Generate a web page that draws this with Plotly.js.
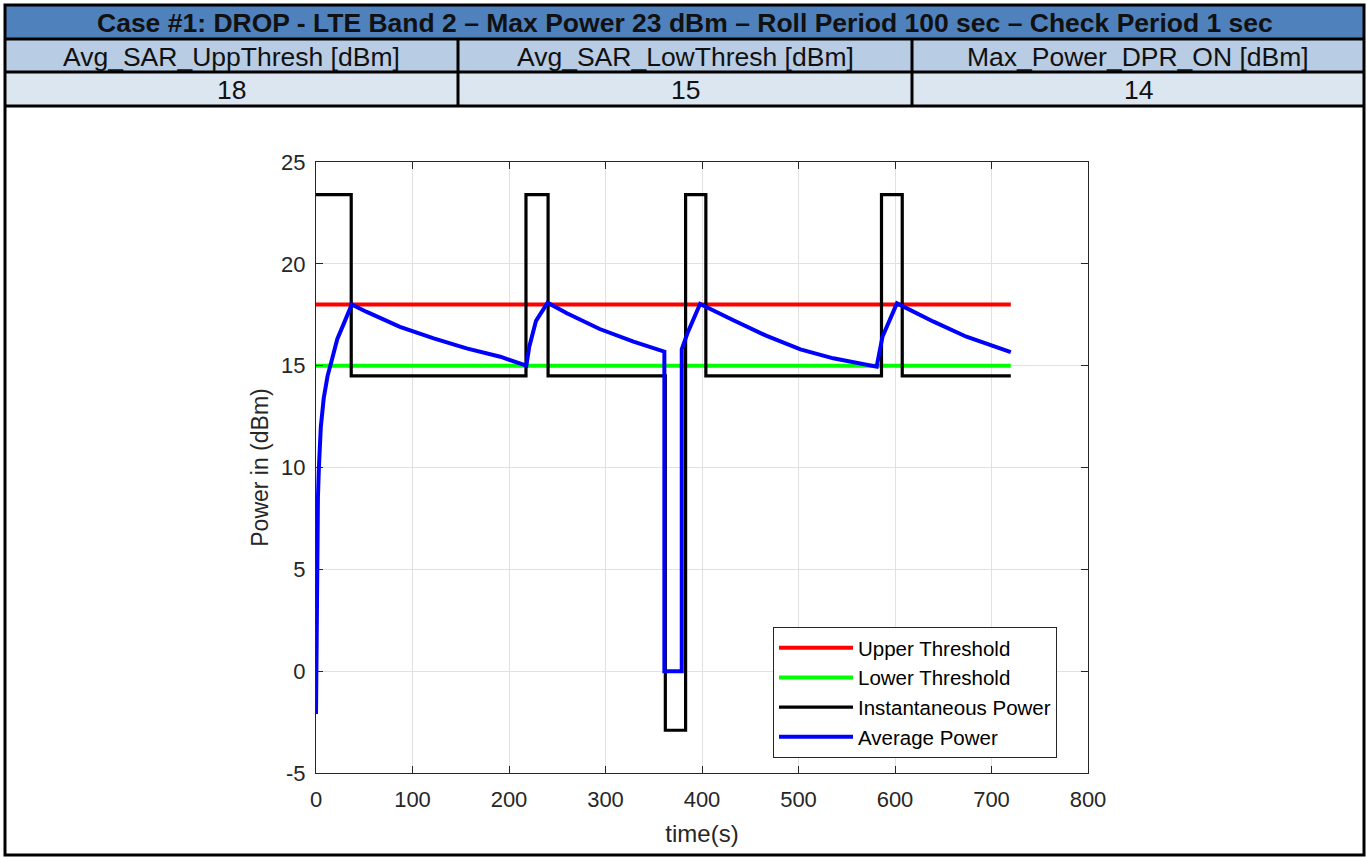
<!DOCTYPE html>
<html>
<head>
<meta charset="utf-8">
<script src="https://cdn.plot.ly/plotly-3.0.1.min.js"></script>
<style>html,body{margin:0;padding:0;background:#fff;}#chart{width:1367px;height:857px;}</style>
</head>
<body>
<div id="chart"></div>
<script>
// ---- data ----
var tableTitle = "Case #1: DROP - LTE Band 2 \u2013 Max Power 23 dBm \u2013 Roll Period 100 sec \u2013 Check Period 1 sec";
var tableHeaders = ["Avg_SAR_UppThresh [dBm]", "Avg_SAR_LowThresh [dBm]", "Max_Power_DPR_ON [dBm]"];
var tableValues = ["18", "15", "14"];

var yTickVals = [-5, 0, 5, 10, 15, 20, 25];
var yTickText = ["-5", "0", "5", "10", "15", "20", "25"];

var thresholdTime = [0, 720];
var upperThreshold = [18, 18];
var lowerThreshold = [15, 15];

var instTime  = [0, 36.5, 36.5, 217.6, 217.6, 240.5, 240.5, 362, 362, 383, 383, 404, 404, 586, 586, 607.5, 607.5, 720];
var instPower = [23.4, 23.4, 14.5, 14.5, 23.4, 23.4, 14.5, 14.5, -2.9, -2.9, 23.4, 23.4, 14.5, 14.5, 23.4, 23.4, 14.5, 14.5];

var avgTime  = [0, 0.5, 1, 2, 3, 5, 8, 12, 16, 22, 30, 37, 52, 87, 122, 156, 191, 218, 221, 228, 240, 260, 294, 329, 361, 361, 379, 379, 385, 398, 432, 467, 502, 536, 581, 587, 602, 640, 674, 720];
var avgPower = [-2.1, 2, 5.5, 8.5, 10, 12, 13.4, 14.5, 15.2, 16.3, 17.2, 18.0, 17.65, 16.91, 16.34, 15.85, 15.44, 15.0, 15.93, 17.2, 18.09, 17.57, 16.8, 16.18, 15.69, 0, 0, 15.8, 16.6, 18.03, 17.24, 16.46, 15.8, 15.36, 14.95, 16.42, 18.06, 17.16, 16.42, 15.66];

var seriesNames = ["Upper Threshold", "Lower Threshold", "Instantaneous Power", "Average Power"];

// ---- layout helpers (pixel -> paper) ----
var W = 1367, H = 857;
var L = 316, R = 1088, T = 162, B = 773;
function px(x) { return (x - L) / (R - L); }
function py(y) { return (B - y) / (B - T); }

var chartFont = "Liberation Sans, Arial, sans-serif";
var tableFont = "Liberation Sans, Arial, sans-serif";
var axisColor = "#262626";

var traces = [
  {x: thresholdTime, y: upperThreshold, name: seriesNames[0], mode: "lines", line: {color: "#ff0000", width: 4}, legendgroup: "a"},
  {x: thresholdTime, y: lowerThreshold, name: seriesNames[1], mode: "lines", line: {color: "#00ff00", width: 4}, legendgroup: "b"},
  {x: instTime, y: instPower, name: seriesNames[2], mode: "lines", line: {color: "#000000", width: 3.2}, legendgroup: "c"},
  {x: avgTime, y: avgPower, name: seriesNames[3], mode: "lines", line: {color: "#0000ff", width: 4}, legendgroup: "d"}
];

var shapes = [];
var annotations = [];
var rowY = [5, 39, 72, 106];
var rowFill = ["#4F81BD", "#B8CCE4", "#DCE6F1"];
for (var i = 0; i < 3; i++) {
  shapes.push({type: "rect", xref: "paper", yref: "paper", x0: px(5), x1: px(1364), y0: py(rowY[i]), y1: py(rowY[i + 1]),
    fillcolor: rowFill[i], line: {width: 0}, layer: "below"});
}
[39, 72, 106].forEach(function (y) {
  shapes.push({type: "line", xref: "paper", yref: "paper", x0: px(5), x1: px(1364), y0: py(y), y1: py(y), line: {color: "#000", width: 3}});
});
var colX = [5, 458, 912, 1364];
[458, 912].forEach(function (x) {
  shapes.push({type: "line", xref: "paper", yref: "paper", x0: px(x), x1: px(x), y0: py(39), y1: py(106), line: {color: "#000", width: 3}});
});
shapes.push({type: "rect", xref: "paper", yref: "paper", x0: px(5), x1: px(1364), y0: py(5), y1: py(855), line: {color: "#000", width: 3}, fillcolor: "rgba(0,0,0,0)"});

annotations.push({xref: "paper", yref: "paper", x: px(684.5), y: py(23), text: "<b>" + tableTitle + "</b>", showarrow: false,
  xanchor: "center", yanchor: "middle", font: {family: tableFont, size: 26.5, color: "#111"}});
for (var c = 0; c < 3; c++) {
  var cx = (colX[c] + colX[c + 1]) / 2;
  annotations.push({xref: "paper", yref: "paper", x: px(cx), y: py(56.5), text: tableHeaders[c], showarrow: false,
    xanchor: "center", yanchor: "middle", font: {family: tableFont, size: 26.5, color: "#111"}});
  annotations.push({xref: "paper", yref: "paper", x: px(cx), y: py(90), text: tableValues[c], showarrow: false,
    xanchor: "center", yanchor: "middle", font: {family: tableFont, size: 26.5, color: "#111"}});
}

var axisCommon = {
  ticks: "inside", ticklen: 7, tickcolor: axisColor, tickwidth: 1,
  showline: true, linecolor: axisColor, linewidth: 1, mirror: "ticks",
  showgrid: true, gridcolor: "#e1e1e1", gridwidth: 1, zeroline: false,
  tickfont: {family: chartFont, size: 22, color: axisColor}, automargin: false
};

var layout = {
  width: W, height: H,
  margin: {l: L, r: W - R, t: T, b: H - B, pad: 0},
  paper_bgcolor: "#ffffff", plot_bgcolor: "#ffffff",
  font: {family: chartFont, color: axisColor},
  xaxis: Object.assign({}, axisCommon, {range: [0, 800], dtick: 100, tick0: 0, ticklabelstandoff: 7,
    title: {text: "time(s)", font: {family: chartFont, size: 24, color: axisColor}, standoff: 13}}),
  yaxis: Object.assign({}, axisCommon, {range: [-5, 25], tickmode: "array", tickvals: yTickVals, ticktext: yTickText, ticklabelstandoff: 5,
    title: {text: "Power in (dBm)", font: {family: chartFont, size: 23, color: axisColor}, standoff: 6}}),
  showlegend: true,
  legend: {x: px(773), y: py(627), xanchor: "left", yanchor: "top", bgcolor: "#ffffff",
    bordercolor: axisColor, borderwidth: 1, font: {family: chartFont, size: 20.5, color: "#000"},
    traceorder: "grouped", tracegroupgap: 0, itemwidth: 74},
  shapes: shapes,
  annotations: annotations
};

Plotly.newPlot("chart", traces, layout, {displayModeBar: false, staticPlot: true});
</script>
</body>
</html>
